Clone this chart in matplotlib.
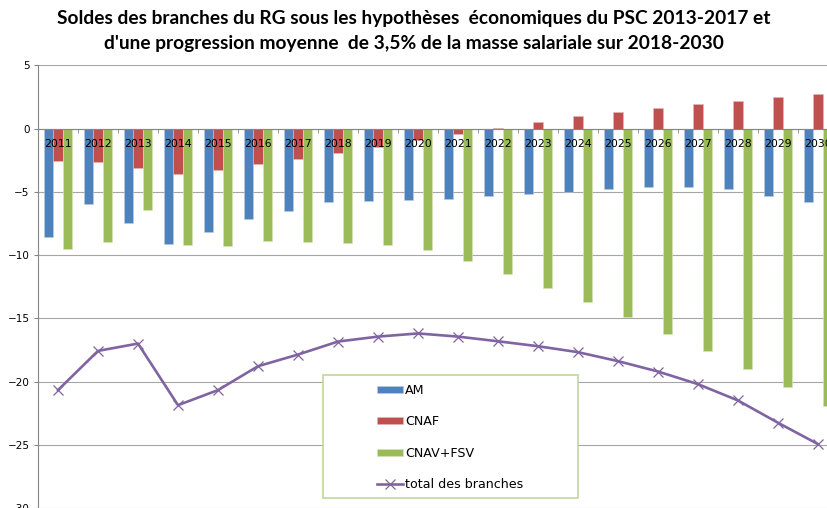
import matplotlib.pyplot as plt
import numpy as np
from matplotlib.patches import Rectangle

# Values (billions of euros)
years = ['2011', '2012', '2013', '2014', '2015', '2016', '2017', '2018', '2019', '2020',
         '2021', '2022', '2023', '2024', '2025', '2026', '2027', '2028', '2029', '2030']
am = [-8.6, -6.0, -7.45, -9.1, -8.2, -7.18, -6.5, -5.84, -5.76, -5.68,
      -5.55, -5.37, -5.18, -5.03, -4.82, -4.66, -4.63, -4.79, -5.34, -5.79]
cnaf = [-2.6, -2.66, -3.1, -3.63, -3.26, -2.79, -2.37, -1.95, -1.47, -0.87,
        -0.42, 0.05, 0.55, 1.0, 1.34, 1.6, 1.92, 2.18, 2.47, 2.74]
cnav = [-9.5, -9.0, -6.42, -9.18, -9.26, -8.87, -9.0, -9.08, -9.24, -9.58,
        -10.5, -11.5, -12.6, -13.74, -14.92, -16.21, -17.58, -19.0, -20.42, -21.92]
total = [-20.68, -17.58, -17.0, -21.87, -20.68, -18.79, -17.87, -16.84, -16.45, -16.2,
         -16.45, -16.82, -17.21, -17.68, -18.39, -19.21, -20.21, -21.5, -23.26, -24.95]

fig = plt.figure(figsize=(8.27, 5.08), dpi=100)
# plot area runs past the right edge, like the cropped original
ax = fig.add_axes([38 / 827, 0.0, 800 / 827, 0.8715])

x = np.arange(len(years))
w = 0.228
b1 = ax.bar(x - w, am, w, color='#4F81BD', edgecolor='#B9CDE5', lw=0.4, label='AM', zorder=2)
b2 = ax.bar(x, cnaf, w, color='#C0504D', edgecolor='#E6B9B8', lw=0.4, label='CNAF', zorder=2)
b3 = ax.bar(x + w, cnav, w, color='#9BBB59', edgecolor='#D7E4BD', lw=0.4, label='CNAV+FSV', zorder=2)
ln, = ax.plot(x, total, color='#8064A2', lw=1.9, marker='x', ms=6.5, mew=0.9,
              label='total des branches', zorder=3)

ax.set_xlim(-0.5, len(years) - 0.5)
ax.set_ylim(-30, 5)
ax.set_yticks(np.arange(-30, 6, 5))
ax.yaxis.grid(True, color='#A6A6A6', lw=0.8)
ax.set_axisbelow(True)
ax.tick_params(axis='y', labelsize=7.5, length=3, color='#868686', pad=3)

# category axis crosses at zero, labels sit over the bars
ax.spines['top'].set_visible(False)
ax.spines['right'].set_visible(False)
ax.spines['bottom'].set_position(('data', 0))
ax.spines['bottom'].set_color('#868686')
ax.spines['left'].set_color('#868686')
ax.set_xticks([])
ax.set_xticks(x[:-1] + 0.5, minor=True)
ax.tick_params(axis='x', which='minor', length=3, color='#868686', direction='out')
for i, yr in enumerate(years):
    ax.text(i, -1.25, yr, ha='center', va='center', fontsize=7.8, zorder=6)

fig.suptitle("Soldes des branches du RG sous les hypothèses  économiques du PSC 2013-2017 et\n"
             "d'une progression moyenne  de 3,5% de la masse salariale sur 2018-2030",
             x=0.5, y=1 - 10 / 508, fontsize=13.8, fontweight='bold',
             family=['Lato', 'DejaVu Sans'], linespacing=1.55)

# legend box
fig.add_artist(Rectangle((323 / 827, 1 - 498 / 508), 255 / 827, 123 / 508,
                         transform=fig.transFigure, fc='white', ec='#C3D69B', lw=1.2, zorder=5))
leg = fig.legend([b1, b2, b3, ln], ['AM', 'CNAF', 'CNAV+FSV', 'total des branches'],
                 loc='upper left', bbox_to_anchor=(377 / 827, 1 - 384 / 508), frameon=False,
                 fontsize=9.1, handlelength=2.05, handleheight=0.5, handletextpad=0.16,
                 labelspacing=1.45, borderpad=0, borderaxespad=0)
leg.set_zorder(6)

fig.savefig('out.png', dpi=100)
